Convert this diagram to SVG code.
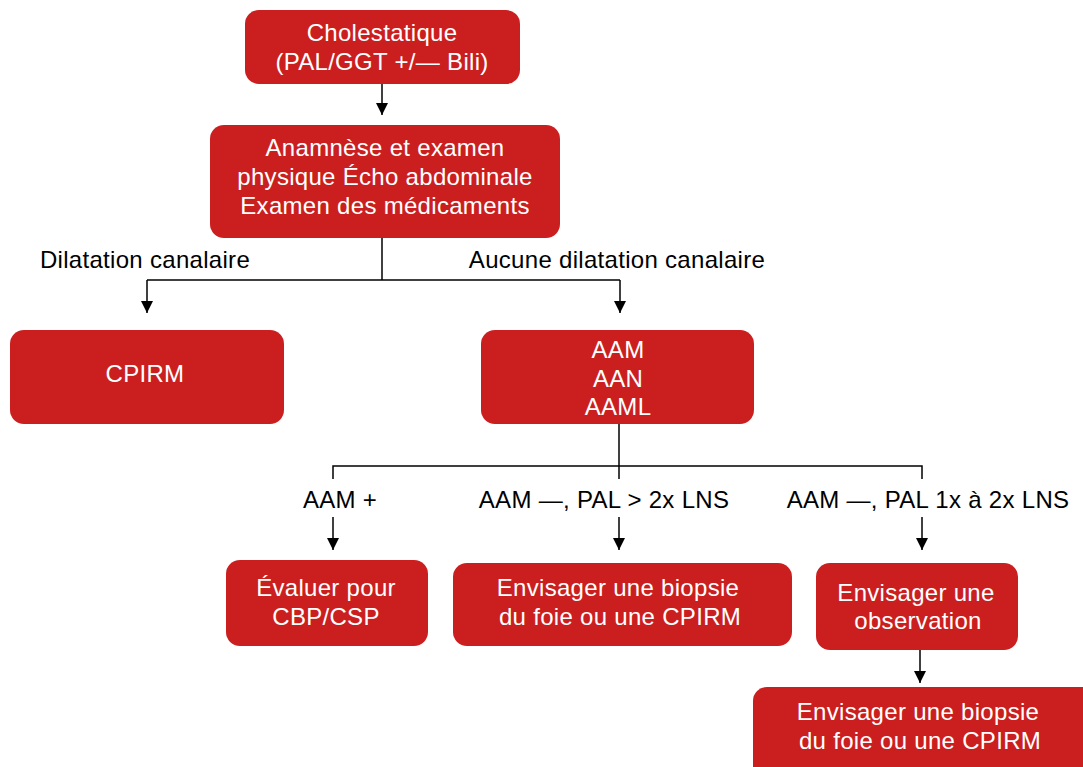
<svg xmlns="http://www.w3.org/2000/svg" width="1083" height="767" viewBox="0 0 1083 767">
<defs>
<marker id="ah" markerWidth="12" markerHeight="12" refX="10" refY="5" orient="auto" markerUnits="userSpaceOnUse" viewBox="0 0 10 10">
<path d="M0,0 L10,5 L0,10 Z" fill="#000"/>
</marker>
<style>
.box{fill:#cb1f1f;}
.wt{fill:#fff;font-family:"Liberation Sans",Arial,sans-serif;font-size:24px;letter-spacing:0.3px;text-anchor:middle;}
.bt{fill:#000;font-family:"Liberation Sans",Arial,sans-serif;font-size:24px;letter-spacing:0.3px;text-anchor:middle;}
.ln{stroke:#000;stroke-width:1.5;fill:none;}
.ar{stroke:#000;stroke-width:1.5;fill:none;marker-end:url(#ah);}
</style>
</defs>
<rect width="1083" height="767" fill="#fff"/>
<g id="connectors">
<line class="ar" x1="382" y1="84" x2="382" y2="115"/>
<polyline class="ln" points="382,238 382,280"/>
<polyline class="ar" points="147,280 147,313" />
<polyline class="ar" points="620,280 620,313" />
<line class="ln" x1="147" y1="280" x2="620" y2="280"/>
<line class="ln" x1="619" y1="424" x2="619" y2="479"/>
<polyline class="ln" points="333,479 333,466 922,466 922,479"/>
<line class="ar" x1="333" y1="517" x2="333" y2="550"/>
<line class="ar" x1="619" y1="517" x2="619" y2="550"/>
<line class="ar" x1="922" y1="517" x2="922" y2="550"/>
<line class="ar" x1="920" y1="650" x2="920" y2="683"/>
<text class="bt" x="145" y="268">Dilatation canalaire</text>
<text class="bt" x="617" y="268">Aucune dilatation canalaire</text>
<text class="bt" x="340" y="508">AAM +</text>
<text class="bt" x="604" y="508">AAM —, PAL &gt; 2x LNS</text>
<text class="bt" x="928" y="508">AAM —, PAL 1x à 2x LNS</text>
</g>
<g id="n1">
<rect class="box" x="245" y="10" width="275" height="74" rx="14"/>
<text class="wt" x="382" y="41">Cholestatique</text>
<text class="wt" x="382" y="70">(PAL/GGT +/— Bili)</text>
</g>
<g id="n2">
<rect class="box" x="210" y="125" width="350" height="113" rx="14"/>
<text class="wt" x="385" y="156">Anamnèse et examen</text>
<text class="wt" x="385" y="185">physique Écho abdominale</text>
<text class="wt" x="385" y="214">Examen des médicaments</text>
</g>
<g id="n3">
<rect class="box" x="10" y="330" width="274" height="94" rx="14"/>
<text class="wt" x="145" y="382">CPIRM</text>
</g>
<g id="n4">
<rect class="box" x="481" y="330" width="273" height="94" rx="14"/>
<text class="wt" x="618" y="358">AAM</text>
<text class="wt" x="618" y="387">AAN</text>
<text class="wt" x="618" y="415">AAML</text>
</g>
<g id="n5">
<rect class="box" x="226" y="560" width="202" height="86" rx="14"/>
<text class="wt" x="326" y="596">Évaluer pour</text>
<text class="wt" x="326" y="625">CBP/CSP</text>
</g>
<g id="n6">
<rect class="box" x="453" y="563" width="339" height="83" rx="14"/>
<text class="wt" x="618" y="596">Envisager une biopsie</text>
<text class="wt" x="620" y="625">du foie ou une CPIRM</text>
</g>
<g id="n7">
<rect class="box" x="816" y="563" width="202" height="87" rx="14"/>
<text class="wt" x="916" y="601">Envisager une</text>
<text class="wt" x="918" y="629">observation</text>
</g>
<g id="n8">
<rect class="box" x="753" y="687" width="345" height="95" rx="14"/>
<text class="wt" x="918" y="720">Envisager une biopsie</text>
<text class="wt" x="920" y="749">du foie ou une CPIRM</text>
</g>
</svg>
